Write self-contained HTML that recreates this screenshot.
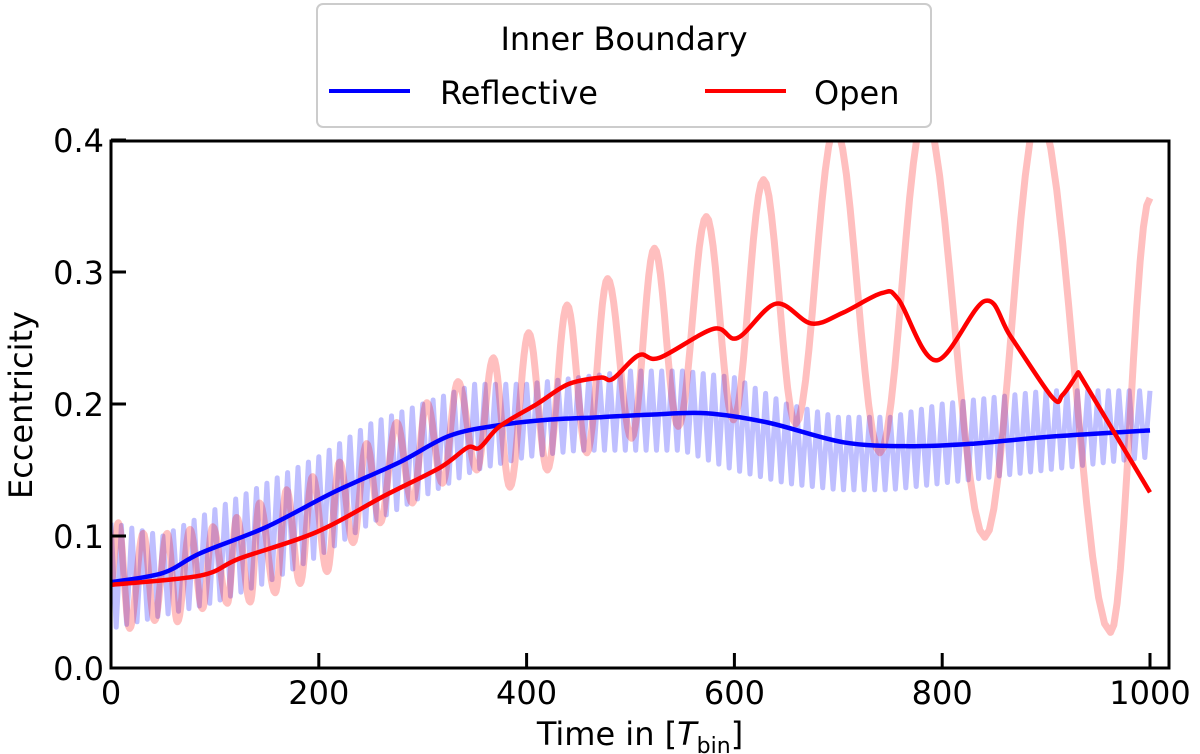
<!DOCTYPE html>
<html><head><meta charset="utf-8"><style>
html,body{margin:0;padding:0;background:#fff;}
svg{display:block;font-family:"DejaVu Sans","Liberation Sans",sans-serif;}
</style></head><body>
<svg id="chart" width="1200" height="754" viewBox="0 0 1200 754" xmlns="http://www.w3.org/2000/svg">
<defs><clipPath id="plotclip"><rect x="111" y="141" width="1058" height="527"/></clipPath></defs>
<g id="faint" clip-path="url(#plotclip)"></g>
<g id="main" clip-path="url(#plotclip)"></g>
<rect x="111" y="141" width="1058" height="527" fill="none" stroke="#000" stroke-width="3"/>
<g id="axes"></g>
<text x="640" y="745" font-size="32" text-anchor="middle">Time in [<tspan font-style="italic">T</tspan><tspan font-size="22" dy="8">bin</tspan><tspan dy="-8">]</tspan></text>
<text transform="translate(32,405) rotate(-90)" font-size="32" text-anchor="middle">Eccentricity</text>
<g>
<rect x="317" y="4" width="614" height="123" rx="6" fill="#fff" stroke="#ccc" stroke-width="2"/>
<text x="624" y="50" font-size="32" text-anchor="middle">Inner Boundary</text>
<line x1="329" y1="91" x2="410" y2="91" stroke="#0000ff" stroke-width="4"/>
<text x="440" y="104" font-size="32">Reflective</text>
<line x1="705" y1="91" x2="786" y2="91" stroke="#ff0000" stroke-width="4"/>
<text x="814" y="104" font-size="32">Open</text>
</g>
</svg>
<script>
const xTicks=[0,200,400,600,800,1000];
const yTicks=[0.0,0.1,0.2,0.3,0.4];
const yTickLabels=["0.0","0.1","0.2","0.3","0.4"];
const blueT=[0,50,86,150,214,278,326,374,420,471,520,573,632,705,769,831,900,1000];
const blueE=[0.065,0.072,0.087,0.107,0.133,0.156,0.176,0.184,0.188,0.190,0.192,0.193,0.186,0.171,0.168,0.170,0.175,0.180];
const redT=[0,86,124,198,262,317,343,355,374,410,440,471,483,508,528,580,603,640,674,704,742,758,794,841,866,906,916,931,1000];
const redE=[0.063,0.070,0.083,0.103,0.130,0.152,0.167,0.167,0.183,0.200,0.215,0.220,0.219,0.237,0.235,0.257,0.250,0.276,0.261,0.269,0.284,0.279,0.233,0.278,0.251,0.205,0.207,0.224,0.133];
const redRawT=[0,7,18,31,42,54,64,76,88,98,112,121,134,143,158,169,182,194,208,220,233,246,259,275,290,304,319,334,352,368,384,402,420,439,458,478,501,523,546,573,599,628,659,697,740,783,841,893,962,1000];
const redRawE=[0.065,0.110,0.030,0.102,0.036,0.102,0.035,0.105,0.045,0.107,0.049,0.114,0.050,0.125,0.057,0.135,0.064,0.145,0.073,0.156,0.095,0.170,0.110,0.186,0.125,0.201,0.140,0.217,0.150,0.235,0.137,0.254,0.150,0.275,0.163,0.295,0.174,0.318,0.183,0.342,0.188,0.370,0.185,0.410,0.163,0.420,0.099,0.420,0.027,0.356];
const blueEnvT=[0,50,100,150,200,250,300,350,400,450,500,550,600,650,700,750,800,850,900,950,1000];
const blueUpper=[0.11,0.10,0.12,0.14,0.16,0.185,0.20,0.215,0.215,0.22,0.225,0.225,0.22,0.20,0.19,0.19,0.20,0.205,0.21,0.21,0.21];
const blueLower=[0.03,0.04,0.05,0.065,0.085,0.11,0.13,0.15,0.16,0.165,0.165,0.165,0.15,0.14,0.135,0.135,0.14,0.145,0.15,0.155,0.16];
const bluePeriod=10;

const NS="http://www.w3.org/2000/svg";
const X=t=>111+t*1.039;
const Y=e=>668-e*1320;
function interp(ts,vs,t){for(let i=1;i<ts.length;i++){if(t<=ts[i]){const f=(t-ts[i-1])/(ts[i]-ts[i-1]);return vs[i-1]+f*(vs[i]-vs[i-1]);}}return vs[vs.length-1];}
function mk(tag,attrs,parent){const el=document.createElementNS(NS,tag);for(const k in attrs)el.setAttribute(k,attrs[k]);parent.appendChild(el);return el;}
function smoothPath(ts,vs,sharpFrom){
 const p=ts.map((t,i)=>[X(t),Y(vs[i])]);
 let d='M'+p[0][0].toFixed(1)+','+p[0][1].toFixed(1);
 for(let i=0;i<p.length-1;i++){
  if(sharpFrom!==undefined && i>=sharpFrom){d+=' L'+p[i+1][0].toFixed(1)+','+p[i+1][1].toFixed(1);continue;}
  const p0=p[Math.max(0,i-1)],p1=p[i],p2=p[i+1];
  const p3=(sharpFrom!==undefined && i+1>=sharpFrom)?p2:p[Math.min(p.length-1,i+2)];
  const c1=[p1[0]+(p2[0]-p0[0])/6,p1[1]+(p2[1]-p0[1])/6],c2=[p2[0]-(p3[0]-p1[0])/6,p2[1]-(p3[1]-p1[1])/6];
  d+=' C'+c1[0].toFixed(1)+','+c1[1].toFixed(1)+' '+c2[0].toFixed(1)+','+c2[1].toFixed(1)+' '+p2[0].toFixed(1)+','+p2[1].toFixed(1);
 }
 return d;
}
const faint=document.getElementById('faint'),main=document.getElementById('main'),axes=document.getElementById('axes');

let pb=[];
for(let t=0,k=0;t<=1000;t+=bluePeriod/2,k++){const v=k%2===0?interp(blueEnvT,blueUpper,t):interp(blueEnvT,blueLower,t);pb.push(X(t).toFixed(1)+','+Y(v).toFixed(1));}
const bf=mk('polyline',{points:pb.join(' '),fill:'none',stroke:'rgba(0,0,255,0.25)','stroke-width':5,'stroke-linejoin':'round'},faint);



let pr=[];
for(let i=1;i<redRawT.length;i++){const t0=redRawT[i-1],t1=redRawT[i],e0=redRawE[i-1],e1=redRawE[i];for(let s=0;s<=12;s++){const f=s/12,g=(1-Math.cos(Math.PI*f))/2;pr.push(X(t0+f*(t1-t0)).toFixed(1)+','+Y(e0+g*(e1-e0)).toFixed(1));}}
const rf=mk('polyline',{points:pr.join(' '),fill:'none',stroke:'rgba(255,0,0,0.25)','stroke-width':7,'stroke-linejoin':'round'},faint);



const bl=mk('path',{d:smoothPath(blueT,blueE),fill:'none',stroke:'#0000ff','stroke-width':4.5,'stroke-linejoin':'round'},main);


const rl=mk('path',{d:smoothPath(redT,redE,redT.length-2),fill:'none',stroke:'#ff0000','stroke-width':4.5,'stroke-linejoin':'round'},main);



xTicks.forEach(v=>{const x=X(v);
 const l=mk('line',{x1:x,y1:668,x2:x,y2:653,stroke:'#000','stroke-width':3},axes);
 
 
 const tx=mk('text',{x:x,y:704,'font-size':32,'text-anchor':'middle'},axes);tx.textContent=String(v);
 
 
});
yTicks.forEach((v,i)=>{const y=Y(v);
 const l=mk('line',{x1:111,y1:y,x2:126,y2:y,stroke:'#000','stroke-width':3},axes);
 
 
 const tx=mk('text',{x:104,y:y+12,'font-size':32,'text-anchor':'end'},axes);tx.textContent=yTickLabels[i];
 
 
});
</script>
</body></html>
